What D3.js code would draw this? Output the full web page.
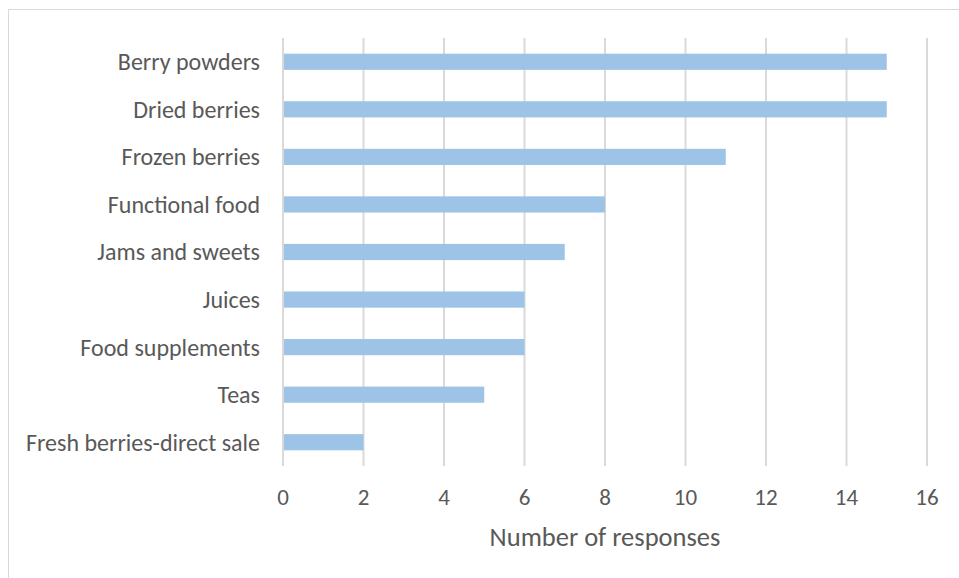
<!DOCTYPE html>
<html><head><meta charset="utf-8">
<script src="https://cdn.jsdelivr.net/npm/d3@7"></script>
<style>body{margin:0;background:#fff;} text{font-family:Carlito,Calibri,Lato,sans-serif;}</style>
</head><body>
<svg id="chart" width="959" height="578"></svg>
<script>
const categories = ["Berry powders","Dried berries","Frozen berries","Functional food","Jams and sweets","Juices","Food supplements","Teas","Fresh berries-direct sale"];
const values = [15,15,11,8,7,6,6,5,2];
const xTicks = [0,2,4,6,8,10,12,14,16];
const xTitle = "Number of responses";

const svg = d3.select("#chart");
svg.append("rect").attr("x",8.5).attr("y",9.5).attr("width",1000).attr("height",1000)
  .attr("fill","#fff").attr("stroke","#d9d9d9").attr("stroke-width",1);

const x = d3.scaleLinear().domain([0,16]).range([283,927]);
const y = d3.scaleBand().domain(categories).range([38,466]).paddingInner(0.66).paddingOuter(0.33);

svg.append("g").selectAll("line").data(xTicks).join("line")
  .attr("x1",d=>x(d)).attr("x2",d=>x(d)).attr("y1",38).attr("y2",466)
  .attr("stroke","#d9d9d9").attr("stroke-width",2);

svg.append("g").selectAll("rect").data(categories).join("rect")
  .attr("x",x(0)+1).attr("y",d=>y(d)).attr("height",y.bandwidth())
  .attr("width",(d,i)=>x(values[i])-x(0)-1).attr("fill","#9dc3e6");

svg.append("g").selectAll("text").data(categories).join("text")
  .attr("x",260).attr("y",d=>y(d)+y.bandwidth()/2).attr("dy","0.35em")
  .attr("text-anchor","end").attr("font-size",24).attr("fill","#595959").text(d=>d);

svg.append("g").selectAll("text").data(xTicks).join("text")
  .attr("x",d=>x(d)).attr("y",497).attr("dy","0.35em")
  .attr("text-anchor","middle").attr("font-size",23).attr("fill","#595959").text(d=>d);

svg.append("text").attr("x",605).attr("y",537).attr("dy","0.35em").attr("text-anchor","middle")
  .attr("font-size",26.5).attr("fill","#595959").text(xTitle);
</script>
</body></html>
